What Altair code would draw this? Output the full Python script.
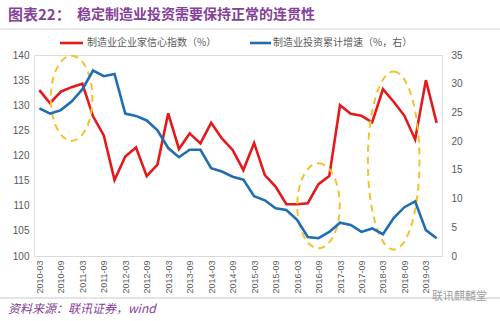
import altair as alt
import pandas as pd

dates = ["2010-03", "2010-06", "2010-09", "2010-12", "2011-03", "2011-06", "2011-09", "2011-12",
         "2012-03", "2012-06", "2012-09", "2012-12", "2013-03", "2013-06", "2013-09", "2013-12",
         "2014-03", "2014-06", "2014-09", "2014-12", "2015-03", "2015-06", "2015-09", "2015-12",
         "2016-03", "2016-06", "2016-09", "2016-12", "2017-03", "2017-06", "2017-09", "2017-12",
         "2018-03", "2018-06", "2018-09", "2018-12", "2019-03", "2019-06"]
confidence = [133.0, 130.4, 132.7, 133.6, 134.3, 127.8, 124.0, 115.1, 119.8, 121.6, 115.9, 118.2,
              128.4, 121.3, 124.4, 122.4, 126.5, 123.4, 121.1, 117.1, 122.5, 116.1, 113.8, 110.3,
              110.3, 110.5, 114.3, 115.9, 130.0, 128.3, 127.9, 126.6, 133.2, 130.7, 127.9, 123.2,
              135.0, 126.5]
investment = [25.7, 24.8, 25.4, 26.9, 29.0, 32.3, 31.3, 31.7, 24.8, 24.4, 23.6, 21.9,
              18.8, 17.2, 18.5, 18.5, 15.3, 14.7, 13.8, 13.3, 10.4, 9.7, 8.3, 8.0,
              6.3, 3.3, 3.1, 4.2, 5.8, 5.4, 4.2, 4.8, 3.8, 6.6, 8.5, 9.5, 4.5, 3.1]
tick_labels = ["2010-03", "2010-09", "2011-03", "2011-09", "2012-03", "2012-09", "2013-03",
               "2013-09", "2014-03", "2014-09", "2015-03", "2015-09", "2016-03", "2016-09",
               "2017-03", "2017-09", "2018-03", "2018-09", "2019-03"]
left_ticks = [100, 105, 110, 115, 120, 125, 130, 135, 140]
right_ticks = [0, 5, 10, 15, 20, 25, 30, 35]

# highlight ellipses (centre on the left axis scale)
ell_dates = ["2010-12", "2016-09", "2018-06"]
ell_values = [131.4, 110.0, 119.0]

title_a = "图表22："
title_b = "稳定制造业投资需要保持正常的连贯性"
legend_red = "制造业企业家信心指数（%）"
legend_blue = "制造业投资累计增速（%，右）"
source = "资料来源：联讯证券，wind"
watermark = "联讯麒麟堂"

RED = "#E3191C"
BLUE = "#1F6DB2"
YELLOW = "#F2C230"
PURPLE = "#84409A"
GRAY = "#595959"
NUM_FONT = "Liberation Sans"
CJK = "Noto Sans CJK SC"

red_df = pd.DataFrame({"date": dates, "value": confidence})
blue_df = pd.DataFrame({"date": dates, "value": investment})

x_enc = alt.X("date:O", sort=dates,
              scale=alt.Scale(type="point", padding=0.5, domain=dates),
              axis=alt.Axis(values=tick_labels, labelAngle=270, title=None, ticks=False,
                            domainColor="#D9D9D9", domainWidth=1, labelFontSize=9,
                            labelPadding=4, labelColor=GRAY, labelFont=NUM_FONT, grid=False))

y_left = alt.Y("value:Q", scale=alt.Scale(domain=[100, 140], nice=False, zero=False),
               axis=alt.Axis(values=left_ticks, orient="left", title=None, grid=False,
                             domain=False, ticks=False, labelColor=GRAY, labelFontSize=10,
                             labelFont=NUM_FONT, labelPadding=5))
y_right = alt.Y("value:Q", scale=alt.Scale(domain=[0, 35], nice=False),
                axis=alt.Axis(values=right_ticks, orient="right", title=None, grid=False,
                              domain=False, ticks=False, labelColor=GRAY, labelFontSize=10,
                              labelFont=NUM_FONT, labelPadding=9))

red_line = alt.Chart(red_df).mark_line(color=RED, strokeWidth=2.6).encode(x=x_enc, y=y_left)
blue_line = alt.Chart(blue_df).mark_line(color=BLUE, strokeWidth=2.6).encode(x=x_enc, y=y_right)


def ellipse_path(a):
    k = 0.5523
    return (f"M 0 -1 C {k*a:.4f} -1 {a:.4f} {-k:.4f} {a:.4f} 0 "
            f"C {a:.4f} {k:.4f} {k*a:.4f} 1 0 1 "
            f"C {-k*a:.4f} 1 {-a:.4f} {k:.4f} {-a:.4f} 0 "
            f"C {-a:.4f} {-k:.4f} {-k*a:.4f} -1 0 -1 Z")


ell_style = [(85, 0.49), (85, 0.50), (178, 0.29)]
ell_layers = []
for d, v, (h, a) in zip(ell_dates, ell_values, ell_style):
    ell_layers.append(
        alt.Chart(pd.DataFrame({"date": [d], "value": [v]})).mark_point(
            shape=ellipse_path(a), size=h * h, filled=False, color=YELLOW,
            strokeWidth=2, strokeDash=[7, 5], opacity=1
        ).encode(x=x_enc, y=y_left)
    )

left_layer = alt.layer(red_line, *ell_layers)


def text(t, x, y, size, color, font=CJK, weight="normal", style="normal"):
    return alt.Chart(pd.DataFrame({"t": [t]})).mark_text(
        align="left", baseline="middle", fontSize=size, color=color, font=font,
        fontWeight=weight, fontStyle=style
    ).encode(text="t:N", x=alt.value(x), y=alt.value(y))


def rule(x1, x2, y, color, width):
    return alt.Chart(pd.DataFrame({"t": [0]})).mark_rule(color=color, strokeWidth=width).encode(
        x=alt.value(x1), x2=alt.value(x2), y=alt.value(y))


annot = [
    text(title_a, -26, -40, 15, PURPLE, weight="bold"),
    text(title_b, 43, -40, 14, PURPLE, weight="bold"),
    rule(-34, 466, -26, "#D0D0D0", 1),
    rule(26, 49, -12, RED, 2.6),
    text(legend_red, 53, -12, 10, GRAY),
    rule(216, 237, -12, BLUE, 2.6),
    text(legend_blue, 239, -12, 10, GRAY),
    rule(-34, 466, 243, "#C8C8C8", 1),
    text(source, -26, 254, 12, PURPLE, style="italic"),
    text(watermark, 398, 242, 11, "#A0A0A0"),
]

chart = alt.layer(left_layer, blue_line, *annot).resolve_scale(y="independent").properties(
    width=408, height=201,
    padding={"left": 34, "top": 55, "right": 58, "bottom": 65},
    autosize="none",
).configure_view(stroke=None).configure(background="white")

chart.save("out.html", embed_options={"renderer": "svg", "actions": False})
